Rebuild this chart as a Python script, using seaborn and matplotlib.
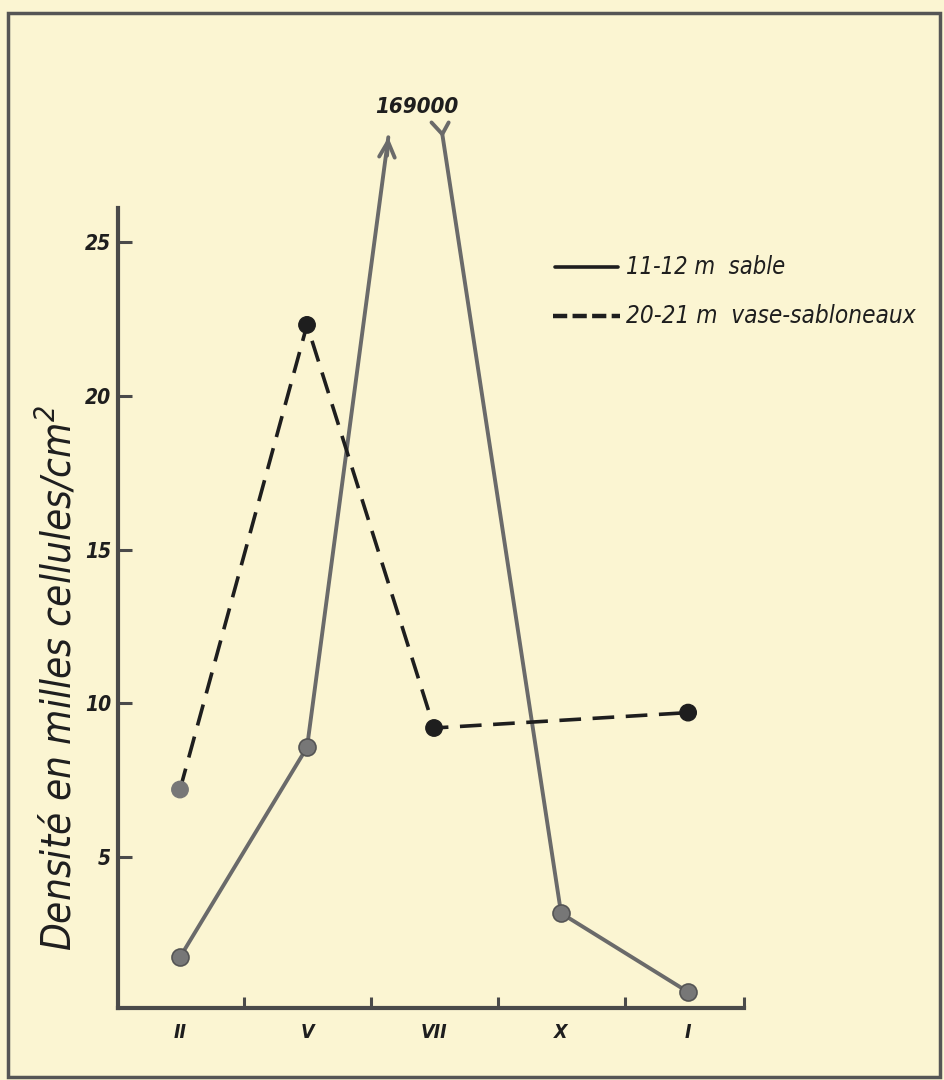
import numpy as np
import pandas as pd
import matplotlib
matplotlib.use("Agg")
import matplotlib.pyplot as plt
from matplotlib.patches import Rectangle
from matplotlib.lines import Line2D
import seaborn as sns

# ---- data (thousands of cells / cm2) ----
months = ["II", "V", "VII", "X", "I"]
month_pos = [0, 2, 4, 6, 8]
minor_pos = [1, 3, 5, 7]
sable = [1.75, 8.57, 169.0, 3.18, 0.62]          # 11-12 m sable
vase = [7.2, 22.3, 9.2, np.nan, 9.7]             # 20-21 m vase-sabloneaux
# where the off-scale peak is broken (arrow up / return from top)
break_x = [3.28, 4.13]
break_y = [28.4, 28.5]
yticks = [5, 10, 15, 20, 25]
label_sable = "11-12 m  sable"
label_vase = "20-21 m  vase-sabloneaux"
ylabel = "Densité en milles cellules/cm$^2$"

BG = "#FBF5D2"
GRAY = "#6a6a6a"
DARK = "#1e1e1e"

sns.set_style("ticks")
plt.rcParams["font.family"] = ["DejaVu Sans"]
plt.rcParams["font.style"] = "italic"
plt.rcParams["font.stretch"] = "condensed"
plt.rcParams["mathtext.fontset"] = "dejavusans"

W, H = 944, 1080
fig = plt.figure(figsize=(W / 100, H / 100), dpi=100, facecolor=BG)
ax_left, ax_right, ax_bottom, ax_top = 118, 744, 1008, 208
ax = fig.add_axes([ax_left / W, 1 - ax_bottom / H,
                   (ax_right - ax_left) / W, (ax_bottom - ax_top) / H])
ax.set_facecolor("none")
ax.set_xlim(-0.976, 8.88)
ax.set_ylim(0.1, 26.1)

# ---- solid series (broken at the off-scale July value) ----
seg1 = pd.DataFrame({"x": month_pos[:2] + [break_x[0]],
                     "y": sable[:2] + [break_y[0]]})
seg2 = pd.DataFrame({"x": [break_x[1]] + month_pos[3:],
                     "y": [break_y[1]] + sable[3:]})
for seg in (seg1, seg2):
    sns.lineplot(data=seg, x="x", y="y", ax=ax, color=GRAY, lw=2.8,
                 sort=False, estimator=None, clip_on=False)
# arrow head going up
ax.annotate("", xy=(break_x[0], break_y[0]),
            xytext=(break_x[0] - 0.02, break_y[0] - 0.6),
            arrowprops=dict(arrowstyle="->", color=GRAY, lw=2.8,
                            mutation_scale=28, shrinkA=0, shrinkB=0),
            annotation_clip=False)
# "Y" tail at the top of the returning line
ax.plot([break_x[1] - 0.17, break_x[1], break_x[1] + 0.1],
        [break_y[1] + 0.38, break_y[1], break_y[1] + 0.38],
        color=GRAY, lw=2.8, clip_on=False, solid_capstyle="round")
ax.text((break_x[0] + break_x[1]) / 2 + 0.03, break_y[1] + 0.55,
        f"{int(sable[2] * 1000)}", ha="center", va="bottom",
        fontsize=16, fontweight="bold", color=DARK, clip_on=False)
sol_pts = pd.DataFrame({"x": [month_pos[i] for i in (0, 1, 3, 4)],
                        "y": [sable[i] for i in (0, 1, 3, 4)]})
sns.scatterplot(data=sol_pts, x="x", y="y", ax=ax, s=150, color="#777777",
                edgecolor="#555555", linewidth=1.2, zorder=4, clip_on=False)

# ---- dashed series ----
vdf = pd.DataFrame({"x": month_pos, "y": vase}).dropna()
sns.lineplot(data=vdf, x="x", y="y", ax=ax, color=DARK, lw=2.6,
             sort=False, estimator=None)
ax.lines[-1].set_dashes([6.0, 3.2])
vcols = ["#777777", DARK, DARK, DARK]
sns.scatterplot(data=vdf, x="x", y="y", ax=ax, s=140, color=vcols,
                edgecolor=vcols, linewidth=1.0, zorder=4, clip_on=False)

# ---- axes styling ----
for s in ("top", "right"):
    ax.spines[s].set_visible(False)
for s in ("left", "bottom"):
    ax.spines[s].set_color("#4a4a4a")
    ax.spines[s].set_linewidth(3.0)
ax.set_yticks(yticks)
ax.set_yticklabels([str(v) for v in yticks], fontsize=15, color=DARK,
                   fontweight="bold")
ax.tick_params(axis="y", direction="in", length=10, width=2.2,
               color="#4a4a4a", pad=5)
ax.set_xticks(month_pos)
ax.set_xticklabels(months, fontsize=14, fontweight="bold", color=DARK)
ax.set_xticks(minor_pos + [8.88], minor=True)
ax.tick_params(axis="x", which="major", length=0, pad=11)
ax.tick_params(axis="x", which="minor", direction="in", length=8,
               width=2.2, color="#4a4a4a")
ax.set_xlabel("")
ax.set_ylabel(ylabel, fontsize=29, color=DARK)
ax.yaxis.set_label_coords((80 - ax_left) / (ax_right - ax_left),
                          (ax_bottom - 678) / (ax_bottom - ax_top))

# ---- legend (hand drawn style) ----
fig.add_artist(Line2D([555 / W, 618 / W], [1 - 267 / H, 1 - 267 / H],
                      color=DARK, lw=2.6))
ld = Line2D([553 / W, 620 / W], [1 - 316 / H, 1 - 316 / H], color=DARK,
            lw=3.2)
ld.set_dashes([3.2, 1.2])
fig.add_artist(ld)
fig.text(626 / W, 1 - 267 / H, label_sable, fontsize=17, color=DARK,
         va="center", ha="left")
fig.text(626 / W, 1 - 316 / H, label_vase, fontsize=17.5, color=DARK,
         va="center", ha="left")

# ---- outer frame ----
fig.add_artist(Rectangle((8 / W, 1 - 1077 / H), (940 - 8) / W,
                         (1077 - 13) / H, transform=fig.transFigure,
                         fill=False, edgecolor="#555555", lw=2.5))

fig.savefig("out.png", dpi=100, facecolor=BG)
